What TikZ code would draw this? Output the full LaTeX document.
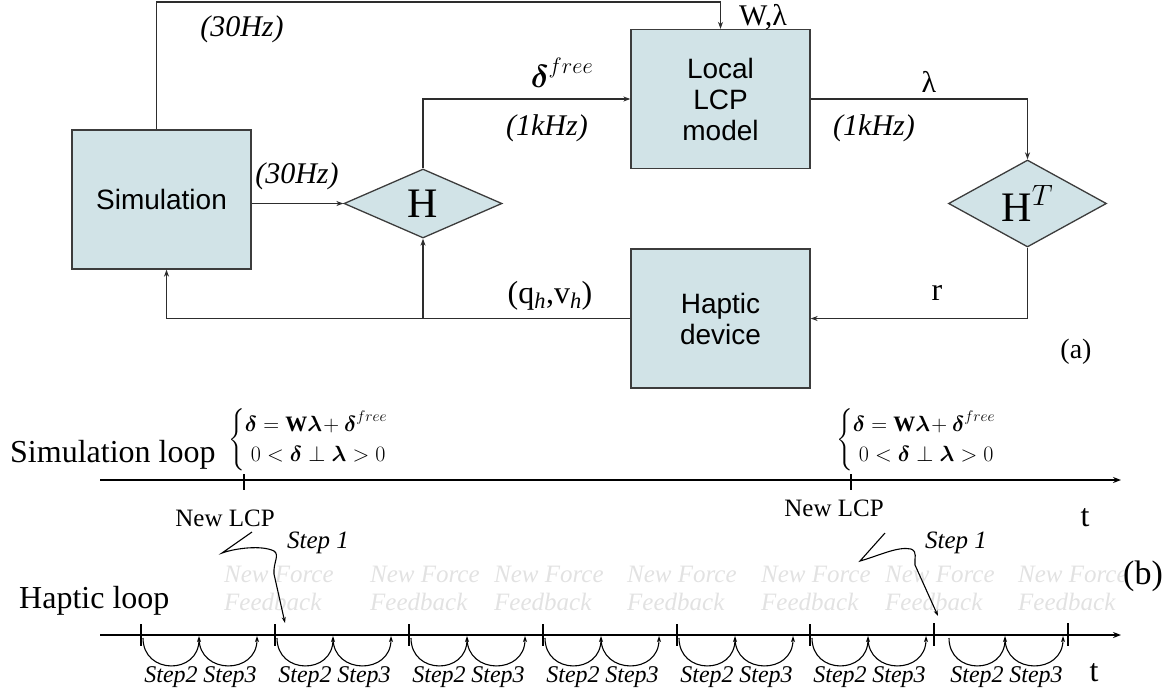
\RequirePackage{fix-cm}
\documentclass[tikz,border=0pt]{standalone}
\usepackage{amsmath}
\usepackage{fontspec}
\setmainfont{Liberation Serif}
\newfontfamily\arialf{Liberation Sans}
\usetikzlibrary{shapes.geometric,arrows.meta}
\definecolor{boxfill}{RGB}{209,227,231}
\definecolor{boxline}{RGB}{60,60,60}
\definecolor{wirec}{RGB}{45,45,45}
\definecolor{ghostc}{RGB}{226,226,226}
\newcommand{\fsz}[2]{\fontsize{#1}{#2}\selectfont}
\begin{document}
\begin{tikzpicture}[x=1pt,y=-1pt,
  blockbox/.style={draw=boxline, line width=1.3pt, fill=boxfill, minimum width=179pt,
    minimum height=139pt, inner sep=0pt, align=center, font=\arialf\fsz{28}{31}},
  hdiamond/.style={diamond, draw=boxline, line width=1.3pt, fill=boxfill,
    minimum width=158pt, minimum height=69pt, inner sep=0pt, font=\fsz{42}{42}},
  wire/.style={draw=wirec, line width=1.2pt},
  wirearrow/.style={wire, -{Stealth[length=7pt,width=5pt]}},
  axis/.style={draw=black, line width=1.3pt, -{Stealth[length=8pt,width=6pt]}},
  tick/.style={draw=black, line width=1.3pt},
  steparc/.style={draw=black, line width=1.1pt, -{Stealth[length=6pt,width=4pt]}},
  lbl/.style={inner sep=0pt},
  ghost/.style={inner sep=0pt, align=left, text=ghostc, font=\itshape\fsz{25}{28}},
  stepl/.style={inner sep=0pt, font=\itshape\fsz{24}{24}}
]
\useasboundingbox (0,0) rectangle (1175,697);

% ---------- part (a) ----------
\node[blockbox] (sim) at (161.5,199.5) {Simulation};
\node[blockbox] (lcp) at (720.5,99) {Local\\LCP\\model};
\node[blockbox] (hap) at (720.5,318.5) {Haptic\\device};
\node[hdiamond] (h) at (423,203.5) {H};
\node[hdiamond] (ht) at (1027.5,203.5) {H$^{T}$};

\coordinate (topline) at (0,2);
\draw[wirearrow] ([xshift=-5pt]sim.north) |- (topline -| lcp.north) -- (lcp.north);
\draw[wirearrow] (sim.east |- h.west) -- (h.west);
\draw[wirearrow] (h.north) |- (lcp.west);
\draw[wirearrow] (lcp.east) -| (ht.north);
\draw[wirearrow] (ht.south) |- (hap.east);
\draw[wirearrow] (hap.west) -| ([xshift=5pt]sim.south);
\coordinate (junc) at (h.south |- hap.west);
\draw[wirearrow] (junc) -- (h.south);

\node[lbl, font=\itshape\fsz{30}{30}] (hz1) at (242,29) {(30Hz)};
\node[lbl, font=\itshape\fsz{30}{30}] (hz2) at (297,176) {(30Hz)};
\node[lbl, font=\itshape\fsz{30}{30}] (khz1) at (547,128) {(1kHz)};
\node[lbl, font=\itshape\fsz{30}{30}] (khz2) at (874,128) {(1kHz)};
\node[lbl, font=\fsz{32}{32}] (dfree) at (562,73) {$\boldsymbol\delta^{free}$};
\node[lbl, font=\fsz{30}{30}] (wl) at (763,17) {W,λ};
\node[lbl, font=\fsz{30}{30}] (lam) at (929,82) {λ};
\node[lbl, font=\fsz{32}{32}] (qv) at (550,296) {(q$_{\text{\itshape h}}$,v$_{\text{\itshape h}}$)};
\node[lbl, font=\fsz{32}{32}] (rr) at (937,293) {r};
\node[lbl, font=\fsz{28}{28}] (la) at (1076,352) {(a)};

% ---------- part (b) ----------
\foreach \x in {224,370,494,627,761,885,1018}
  \node[ghost, anchor=north west] at (\x,566) {New Force\\Feedback};

\node[lbl, anchor=west, font=\fsz{32}{32}] (simloop) at (10,455) {Simulation loop};
\node[lbl, anchor=west, font=\fsz{32}{32}] (haploop) at (19,601) {Haptic loop};

\node[lbl, anchor=west, font=\fsz{22}{25}] (eq1) at (228,440)
  {$\begin{cases}\boldsymbol\delta=\mathbf{W}\boldsymbol\lambda\!+\boldsymbol\delta^{free}\\
   \hspace{6pt}0<\boldsymbol\delta\perp\boldsymbol\lambda>0\end{cases}$};
\node[lbl, anchor=west, font=\fsz{22}{25}] (eq2) at (836,440)
  {$\begin{cases}\boldsymbol\delta=\mathbf{W}\boldsymbol\lambda\!+\boldsymbol\delta^{free}\\
   \hspace{6pt}0<\boldsymbol\delta\perp\boldsymbol\lambda>0\end{cases}$};

\coordinate (sa) at (100,480);
\coordinate (sb) at (1121,480);
\draw[axis] (sa) -- (sb);
\draw[tick] (244,474) -- (244,490);
\draw[tick] (851,474) -- (851,490);

\coordinate (ha) at (100,635);
\coordinate (hb) at (1121,635);
\draw[axis] (ha) -- (hb);
\foreach \t in {141,275,409,543,677,810}
  \draw[tick] (\t,624) -- (\t,646);
\foreach \t in {934,1068}
  \draw[draw=black, line width=1.1pt] (\t,623) -- (\t,646);

\foreach \a in {141,275,409,543,677,810,947} {
  \draw[steparc] (\a+2,638) .. controls (\a+2,675) and (\a+58,675) .. (\a+58,636);
  \draw[steparc] (\a+58,638) .. controls (\a+58,675) and (\a+116,675) .. (\a+116,636);
  \node[stepl] at (\a+30,677) {Step2};
  \node[stepl] at (\a+89,677) {Step3};
}

\node[lbl, font=\fsz{25}{25}] (lcp1) at (225,518) {New LCP};
\node[lbl, font=\fsz{25}{25}] (lcp2) at (834,508) {New LCP};
\node[lbl, font=\itshape\fsz{25}{25}] (st1) at (318,543) {Step 1};
\node[lbl, font=\itshape\fsz{25}{25}] (st2) at (956,543) {Step 1};
\node[lbl, font=\fsz{32}{32}] (t1) at (1085,518) {t};
\node[lbl, font=\fsz{32}{32}] (t2) at (1094,673) {t};
\node[lbl, font=\fsz{34}{34}] (lb) at (1143,576) {(b)};

\coordinate (z1a) at (252,532);
\coordinate (z1b) at (285,623);
\draw[steparc] (z1a) -- (222,553) .. controls (236,548) and (262,545) .. (274,551)
  .. controls (280,555) and (273,563) .. (274,574) -- (z1b);
\coordinate (z2a) at (885,533);
\coordinate (z2b) at (938,616);
\draw[steparc] (z2a) -- (860,561) .. controls (878,556) and (898,546) .. (911,549)
  .. controls (918,552) and (914,558) .. (915,565) -- (z2b);
\end{tikzpicture}
\end{document}
